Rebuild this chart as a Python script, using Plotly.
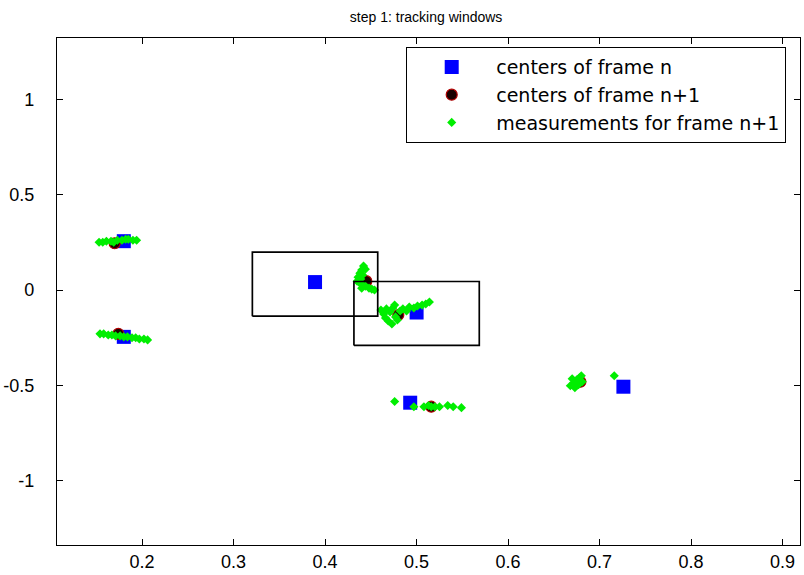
import plotly.graph_objects as go

# Tracking window centers, frame n
cx_n = [0.180, 0.180, 0.389, 0.500, 0.493, 0.726]
cy_n = [0.257, -0.246, 0.042, -0.118, -0.592, -0.508]

# Tracking window centers, frame n+1
cx_n1 = [0.170, 0.174, 0.445, 0.480, 0.516, 0.679]
cy_n1 = [0.246, -0.230, 0.047, -0.131, -0.613, -0.482]

# Measurements for frame n+1
mx = [
    0.153, 0.157, 0.161, 0.166, 0.169, 0.173, 0.178, 0.182, 0.185, 0.190, 0.194,
    0.154, 0.158, 0.163, 0.167, 0.171, 0.176, 0.180, 0.184, 0.189, 0.193, 0.197, 0.202, 0.206,
    0.442, 0.444, 0.440, 0.438, 0.441, 0.436, 0.439, 0.435, 0.438, 0.441, 0.444, 0.448, 0.451, 0.454, 0.440,
    0.461, 0.464, 0.466, 0.469, 0.473, 0.467, 0.471, 0.474, 0.477, 0.479, 0.482, 0.485, 0.489,
    0.492, 0.497, 0.501, 0.506, 0.510, 0.514, 0.476,
    0.476, 0.497, 0.508, 0.513, 0.516, 0.520, 0.525, 0.534, 0.540, 0.549,
    0.668, 0.672, 0.675, 0.678, 0.680, 0.673, 0.677, 0.681, 0.670, 0.716,
]
my = [
    0.251, 0.251, 0.257, 0.257, 0.251, 0.262, 0.262, 0.267, 0.267, 0.262, 0.262,
    -0.230, -0.230, -0.236, -0.236, -0.241, -0.241, -0.246, -0.246, -0.251, -0.251, -0.257, -0.257, -0.262,
    0.126, 0.110, 0.105, 0.089, 0.079, 0.068, 0.058, 0.047, 0.037, 0.026, 0.021, 0.010, 0.005, 0.000, 0.010,
    -0.105, -0.126, -0.147, -0.162, -0.178, -0.099, -0.115, -0.094, -0.141, -0.157, -0.110, -0.099, -0.110,
    -0.089, -0.094, -0.084, -0.079, -0.073, -0.063, -0.079,
    -0.586, -0.613, -0.613, -0.607, -0.613, -0.613, -0.613, -0.607, -0.613, -0.618,
    -0.503, -0.487, -0.471, -0.461, -0.450, -0.513, -0.497, -0.482, -0.466, -0.450,
]

# Search windows around the first two moving targets (half sizes)
win_cx = [0.389, 0.500]
win_cy = [0.031, -0.123]
win_hw = 0.0685
win_hh = 0.168

x_ticks = [0.2, 0.3, 0.4, 0.5, 0.6, 0.7, 0.8, 0.9]
y_ticks = [-1, -0.5, 0, 0.5, 1]

FONT = "Liberation Sans"

fig = go.Figure()

fig.add_trace(go.Scatter(
    x=cx_n, y=cy_n, mode="markers", name="centers of frame n",
    marker=dict(symbol="square", size=14, color="#0000ff", line=dict(width=0)),
))
fig.add_trace(go.Scatter(
    x=cx_n1, y=cy_n1, mode="markers", name="centers of frame n+1",
    marker=dict(symbol="circle", size=11, color="#1a0000",
                line=dict(color="#b00000", width=1.2)),
))
fig.add_trace(go.Scatter(
    x=mx, y=my, mode="markers", name="measurements for frame n+1",
    marker=dict(symbol="diamond", size=7, color="#00ee00", line=dict(width=0)),
))

for cx, cy in zip(win_cx, win_cy):
    fig.add_trace(go.Scatter(
        x=[cx - win_hw, cx + win_hw, cx + win_hw, cx - win_hw, cx - win_hw],
        y=[cy - win_hh, cy - win_hh, cy + win_hh, cy + win_hh, cy - win_hh],
        mode="lines", line=dict(color="black", width=1.7),
        showlegend=False, hoverinfo="skip",
    ))

axis_common = dict(
    showline=True, linecolor="black", linewidth=1.3, mirror="ticks",
    ticks="inside", ticklen=6, tickcolor="black", showgrid=False,
    zeroline=False, tickfont=dict(family=FONT, size=18, color="black"),
)

fig.update_layout(
    width=804, height=575,
    margin=dict(l=57, r=3, t=38, b=28),
    paper_bgcolor="white", plot_bgcolor="white",
    title=dict(text="step 1: tracking windows", x=0.53, xanchor="center",
               y=0.97, yanchor="middle",
               font=dict(family=FONT, size=14, color="black")),
    xaxis=dict(range=[0.107, 0.919], tickvals=x_ticks,
               ticktext=[f"{v:g}" for v in x_ticks], **axis_common),
    yaxis=dict(range=[-1.34, 1.325], tickvals=y_ticks,
               ticktext=[f"{v:g}" for v in y_ticks],
               ticklabelstandoff=18, **axis_common),
    legend=dict(x=0.470, y=0.982, xanchor="left", yanchor="top",
                bgcolor="white", bordercolor="black", borderwidth=1,
                itemwidth=79, font=dict(family="DejaVu Sans", size=19, color="black")),
    showlegend=True,
)

fig.write_html("out.html")
